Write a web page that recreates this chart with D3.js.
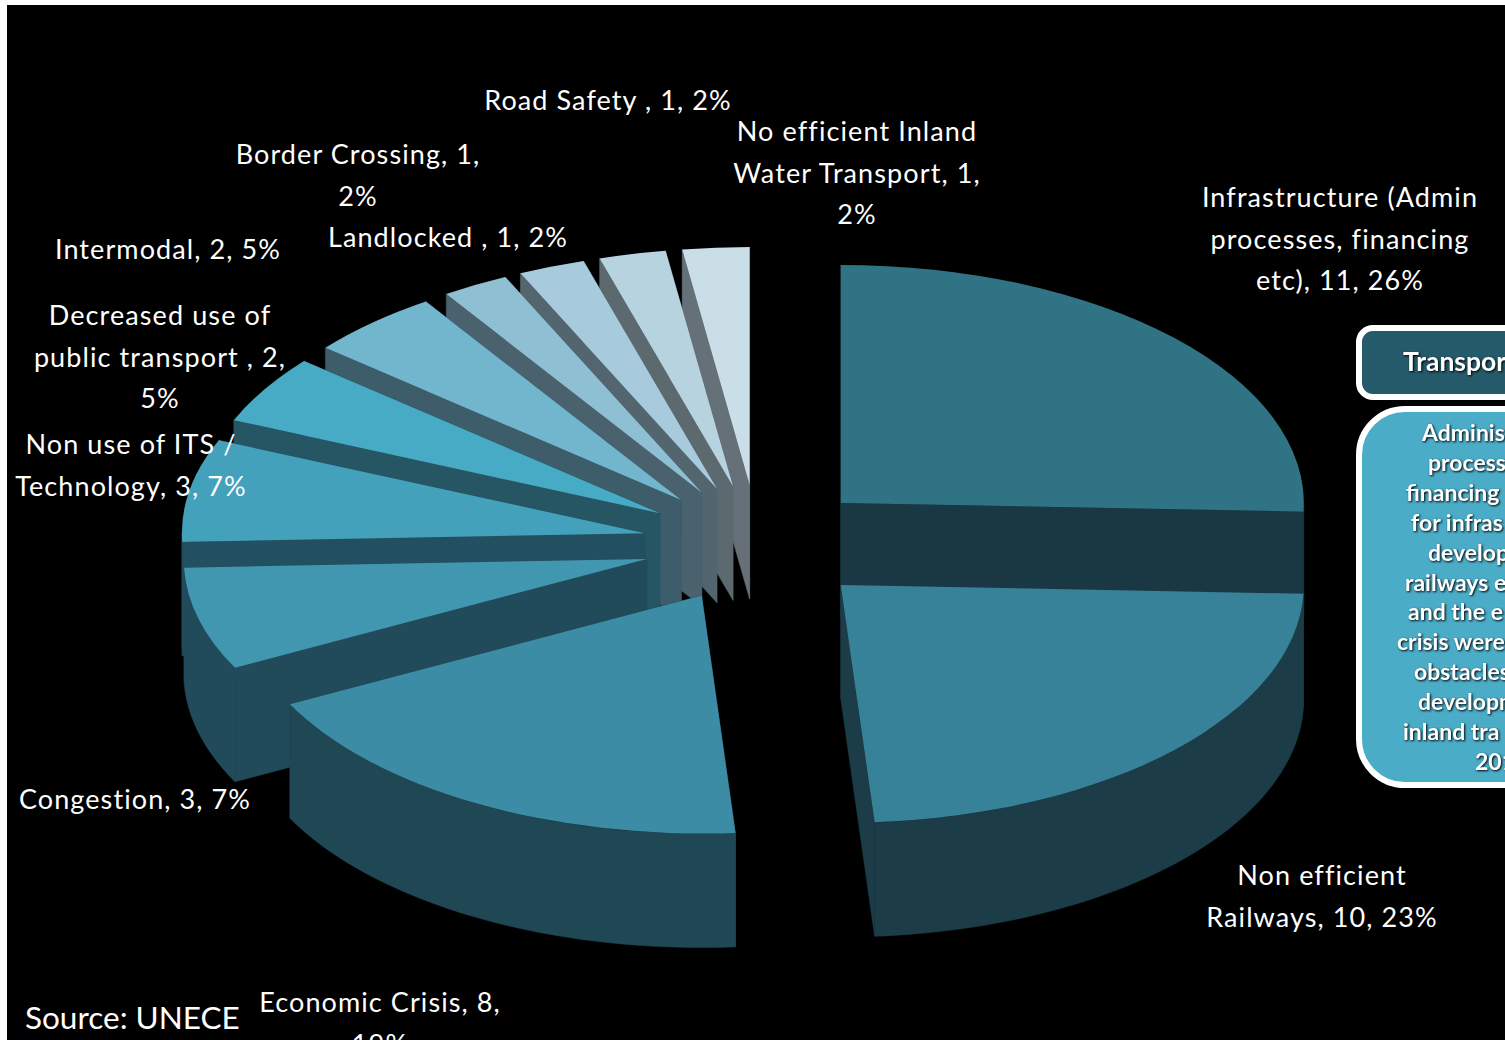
<!DOCTYPE html>
<html>
<head>
<meta charset="utf-8">
<script src="https://cdn.jsdelivr.net/npm/d3@7"></script>
<style>
html,body{margin:0;padding:0;background:#fff;overflow:hidden}
svg{display:block}
text{font-family:Lato,"Open Sans",sans-serif}
</style>
</head>
<body>
<svg id="chart" width="1505" height="1040"></svg>
<script>
// ---- data ----
const categories = ["Infrastructure","Non efficient Railways","Economic Crisis","Congestion","Non use of ITS / Technology","Decreased use of public transport","Intermodal","Border Crossing","Landlocked","Road Safety","No efficient Inland Water Transport"];
const values = [11,10,8,3,3,2,2,1,1,1,1];
const labelLines = [
  ["Infrastructure (Admin","processes, financing","etc), 11, 26%"],
  ["Non efficient","Railways, 10, 23%"],
  ["Economic Crisis, 8,","19%"],
  ["Congestion, 3, 7%"],
  ["Non use of ITS /","Technology, 3, 7%"],
  ["Decreased use of","public transport , 2,","5%"],
  ["Intermodal, 2, 5%"],
  ["Border Crossing, 1,","2%"],
  ["Landlocked , 1, 2%"],
  ["Road Safety , 1, 2%"],
  ["No efficient Inland","Water Transport, 1,","2%"]
];
const sourceText = "Source: UNECE";
const panelTitle = "Transpor";
const panelLines = ["Adminis","process","financing","for infras","develop","railways e","and the e","crisis were","obstacles","developm","inland tra","201"];

// ---- styles and layout ----
const topColors  = ["#307385","#378298","#3c8ca5","#4197b0","#44a1bc","#47abc6","#72b6cd","#8fbfd2","#a7cbdc","#b8d3e0","#c9dee6"];
const wallColors = ["#1a3843","#1c3c48","#1f4754","#214b5b","#235060","#265564","#3c5d69","#4a626e","#536670","#5c6a70","#667078"];
const labelAnchors = [[1340,207],[1322,885],[380,1012],[135,809],[131,454],[160,325],[168,259],[358,164],[448,247],[608,110],[857,141]];
const labelLeading = 41.7;
const panelStarts = [1422,1428,1406,1411,1428,1405,1408,1397,1414,1418,1403,1475];
const cx = 758, cy = 544, rx = 463, tilt = 0.514, depth = 114, explode = 115;

const svg = d3.select("#chart");
svg.append("rect").attr("x",7).attr("y",5).attr("width",1498).attr("height",1035).attr("fill","#000");

const pie = d3.pie().sort(null).startAngle(0).endAngle(2*Math.PI);
const arcs = pie(values).map((d,i)=>{
  const mid=(d.startAngle+d.endAngle)/2;
  return {...d, i, ax:cx+Math.sin(mid)*explode, ay:cy-Math.cos(mid)*explode*tilt};
});
const arcGen = d3.arc().innerRadius(0).outerRadius(rx);
const px = a=>Math.sin(a)*rx;
const py = a=>-Math.cos(a)*rx*tilt;
const wallArea = d3.area().x(a=>px(a)).y0(a=>py(a)).y1(a=>py(a)+depth);

const drawOrder = arcs.slice().sort((a,b)=>a.ay-b.ay);
const gs = svg.selectAll("g.slice").data(drawOrder).join("g").attr("class","slice")
  .attr("transform",d=>`translate(${d.ax},${d.ay})`);

gs.each(function(d){
  const g=d3.select(this), c=wallColors[d.i];
  // radial walls
  [d.startAngle,d.endAngle].forEach(a=>{
    g.append("path").attr("fill",c).attr("stroke",c).attr("stroke-width",.5)
     .attr("d",d3.line()([[0,0],[px(a),py(a)],[px(a),py(a)+depth],[0,depth]])+"Z");
  });
  // outer wall: only the part turned towards the viewer
  const a0=Math.max(d.startAngle,Math.PI/2), a1=Math.min(d.endAngle,3*Math.PI/2);
  if(a1>a0){
    const angles=d3.range(0,61).map(k=>a0+(a1-a0)*k/60);
    g.append("path").attr("fill",c).attr("stroke",c).attr("stroke-width",.5).attr("d",wallArea(angles));
  }
  // top face
  g.append("path").attr("transform",`scale(1,${tilt})`).attr("fill",topColors[d.i])
   .attr("d",arcGen({startAngle:d.startAngle,endAngle:d.endAngle}));
});

// data labels
labelLines.forEach((lines,i)=>{
  lines.forEach((t,k)=>{
    svg.append("text").attr("x",labelAnchors[i][0]).attr("y",labelAnchors[i][1]+k*labelLeading)
      .attr("text-anchor","middle").attr("fill","#fff").attr("font-size",27).attr("letter-spacing",1.1)
      .text(t);
  });
});
svg.append("text").attr("x",25).attr("y",1029).attr("fill","#fff").attr("font-size",31.5).text(sourceText);

// side panels (run off the page edge)
svg.append("rect").attr("x",1359).attr("y",328).attr("width",300).attr("height",69).attr("rx",14)
  .attr("fill","#245a6a").attr("stroke","#fff").attr("stroke-width",6);
svg.append("rect").attr("x",1359).attr("y",409).attr("width",300).attr("height",376).attr("rx",46)
  .attr("fill","#4aacc7").attr("stroke","#fff").attr("stroke-width",6);
svg.append("text").attr("x",1403).attr("y",371).attr("fill","#fff").attr("font-weight",700).attr("font-size",26.5)
  .style("filter","drop-shadow(1px 1px 1px #000)").text(panelTitle);
panelLines.forEach((t,k)=>{
  svg.append("text").attr("x",panelStarts[k]).attr("y",441+k*29.9).attr("fill","#fff")
    .attr("font-weight",700).attr("font-size",23)
    .style("filter","drop-shadow(1px 1px 1px #000)").text(t);
});
</script>
</body>
</html>
